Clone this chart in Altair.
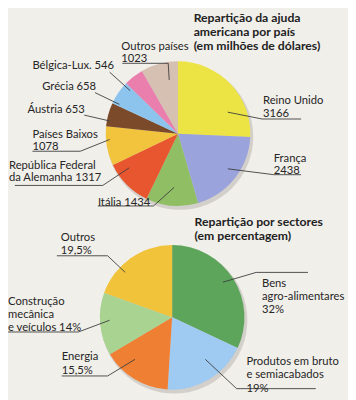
import altair as alt
import pandas as pd

# ---------------- data ----------------
countries = ["Reino Unido", "França", "Itália", "República Federal da Alemanha",
             "Países Baixos", "Áustria", "Grécia", "Bélgica-Lux.", "Outros países"]
aid = [3166, 2438, 1434, 1317, 1078, 653, 658, 546, 1023]
country_colors = ["#ece444", "#9aa3dc", "#8fbe65", "#e8562f", "#f2c43e",
                  "#7b4a2b", "#8dc4ee", "#ea7fae", "#d6c0b2"]

sectors = ["Bens agro-alimentares", "Produtos em bruto e semiacabados", "Energia",
           "Construção mecânica e veículos", "Outros"]
shares = [32, 19, 15.5, 14, 19.5]
sector_colors = ["#5ea55c", "#9fcaf2", "#ef7f33", "#a9d391", "#f1c33b"]

country_fmt = ["Reino Unido\n{}", "França\n{}", "Itália {}", "República Federal\nda Alemanha {}",
               "Países Baixos\n{}", "Áustria {}", "Grécia {}", "Bélgica-Lux. {}", "Outros países\n{}"]
sector_fmt = ["Bens\nagro-alimentares\n{}", "Produtos em  bruto\ne semiacabados\n{}", "Energia\n{}",
              "Construção\nmecânica\ne veículos {}", "Outros\n{}"]

title_top = "Repartição da ajuda\namericana por país\n(em milhões de dólares)"
title_bottom = "Repartição por sectores\n(em percentagem)"

# ---------------- layout (page pixel coordinates) ----------------
pie_top_center = (182, 132)
pie_bottom_center = (176, 320)
pie_radius = 74

country_label_pos = [(269, 98), (280, 157), (100, 202), (9, 164), (33, 132),
                     (28, 107), (43, 83), (33, 62), (124, 42)]
sector_label_pos = [(268, 285), (252, 365), (63, 360), (8, 303), (62, 238)]

country_leaders = [
    [(308, 117), (268, 117), (233, 110)],
    [(308, 174), (280, 174), (233, 168)],
    [(100, 206), (157, 206), (178, 187)],
    [(15, 185), (105, 185), (132, 167)],
    [(33, 150), (82, 150), (112, 138)],
    [(86, 113), (112, 119)],
    [(97, 90), (122, 102)],
    [(112, 69), (133, 88)],
    [(125, 60), (172, 60), (173, 77)],
]
sector_leaders = [
    [(315, 274), (262, 274), (228, 284)],
    [(323, 393), (242, 393), (210, 363)],
    [(63, 380), (110, 380), (138, 363)],
    [(8, 335), (80, 335), (112, 323)],
    [(58, 257), (110, 257), (128, 274)],
]

FONT = "Lato"
TXT = "#262626"
xs = alt.Scale(domain=[8, 356])
ys = alt.Scale(domain=[8, 400], reverse=True)


def fmt_pct(v):
    s = ("%g" % v).replace(".", ",")
    return s + "%"


top_df = pd.DataFrame({"name": countries, "value": aid, "idx": range(len(aid))})
bot_df = pd.DataFrame({"name": sectors, "value": shares, "idx": range(len(shares))})


def pie(df, names, colors, center):
    return alt.Chart(df).mark_arc(outerRadius=pie_radius, stroke=None).encode(
        x=alt.X(datum=center[0], type="quantitative", scale=xs, axis=None),
        y=alt.Y(datum=center[1], type="quantitative", scale=ys, axis=None),
        theta=alt.Theta("value:Q", stack=True),
        order=alt.Order("idx:Q"),
        color=alt.Color("name:N", scale=alt.Scale(domain=names, range=colors), legend=None),
    )


def shadow(center):
    d = pd.DataFrame({"v": [1]})
    return alt.Chart(d).mark_arc(outerRadius=pie_radius + 1, color="#9a9690", opacity=0.35).encode(
        x=alt.X(datum=center[0] + 2, type="quantitative", scale=xs, axis=None),
        y=alt.Y(datum=center[1] + 3, type="quantitative", scale=ys, axis=None),
        theta=alt.Theta("v:Q"),
    )


rows = []
for gid, pts in enumerate(country_leaders + sector_leaders):
    for k, (px, py) in enumerate(pts):
        rows.append({"id": gid, "k": k, "x": px, "y": py})
lead_df = pd.DataFrame(rows)

leaders = alt.Chart(lead_df).mark_line(color="#3c3c3c", strokeWidth=0.9).encode(
    x=alt.X("x:Q", scale=xs, axis=None),
    y=alt.Y("y:Q", scale=ys, axis=None),
    detail="id:N",
    order="k:Q",
)

top_labels = pd.DataFrame({
    "text": [f.format(v) for f, v in zip(country_fmt, aid)],
    "x": [p[0] for p in country_label_pos],
    "y": [p[1] - 5 for p in country_label_pos],
})
bot_labels = pd.DataFrame({
    "text": [f.format(fmt_pct(v)) for f, v in zip(sector_fmt, shares)],
    "x": [p[0] for p in sector_label_pos],
    "y": [p[1] - 5 for p in sector_label_pos],
})


def labels(df, lh):
    return alt.Chart(df).mark_text(align="left", baseline="top", lineBreak="\n", font=FONT,
                                   fontSize=11.5, lineHeight=lh, color=TXT).encode(
        x=alt.X("x:Q", scale=xs, axis=None),
        y=alt.Y("y:Q", scale=ys, axis=None),
        text="text:N",
    )


def title(txt, x, y, lh):
    d = pd.DataFrame({"text": [txt], "x": [x], "y": [y]})
    return alt.Chart(d).mark_text(align="left", baseline="top", lineBreak="\n", font=FONT,
                                  fontSize=12.5, fontWeight="bold", lineHeight=lh,
                                  color="#222222").encode(
        x=alt.X("x:Q", scale=xs, axis=None),
        y=alt.Y("y:Q", scale=ys, axis=None),
        text="text:N",
    )


chart = alt.layer(
    shadow(pie_top_center),
    shadow(pie_bottom_center),
    pie(top_df, countries, country_colors, pie_top_center),
    pie(bot_df, sectors, sector_colors, pie_bottom_center),
    leaders,
    labels(top_labels, 12.5),
    labels(bot_labels, 13.5),
    title(title_top, 198, 8, 14),
    title(title_bottom, 199, 217, 14),
).resolve_scale(theta="independent", color="independent").properties(
    width=348, height=392, padding=0, autosize=alt.AutoSizeParams(type="none"),
    background="#f1efea",
).configure_view(stroke=None)

chart.save("out.html", embed_options={"renderer": "svg", "actions": False})
